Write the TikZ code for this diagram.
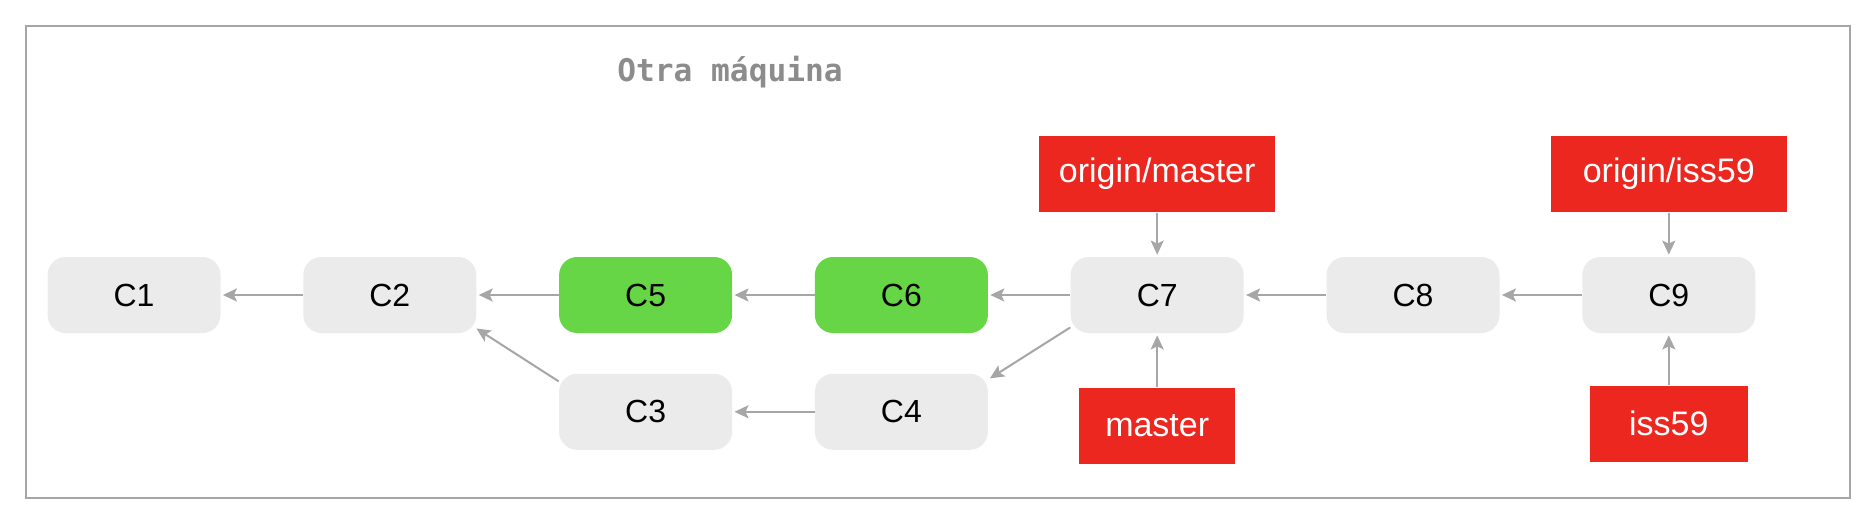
\documentclass[tikz,border=0pt]{standalone}
\usepackage{fontspec}
\setmainfont{Liberation Sans}
\setmonofont{DejaVu Sans Mono}
\usetikzlibrary{arrows.meta,positioning}

\definecolor{commitgray}{HTML}{EBEBEB}
\definecolor{commitgreen}{HTML}{66D646}
\definecolor{branchred}{HTML}{EB2720}
\definecolor{linegray}{HTML}{A6A6A6}
\definecolor{titlegray}{HTML}{8C8C8C}

\tikzset{
  commit/.style={rectangle,rounded corners=9pt,fill=commitgray,minimum width=86.5pt,minimum height=38pt,font=\fontsize{16}{19}\selectfont},
  merged/.style={commit,fill=commitgreen},
  branch/.style={rectangle,fill=branchred,text=white,minimum height=38pt,inner xsep=8.5pt,font=\fontsize{17}{20}\selectfont},
}

\begin{document}
\begin{tikzpicture}[x=0.5pt,y=-0.5pt,>={Stealth[length=7pt,width=6.5pt,inset=1.5pt]},shorten >=1pt,auto,node distance=41pt]

            \useasboundingbox (0,0) rectangle (1874,530);

            \draw[linegray,line width=1pt] (26,26) rectangle (1850,498);

            \node[font=\ttfamily\bfseries\fontsize{15.6}{18}\selectfont,text=titlegray] (title) at (730,72) {Otra máquina};

            \node[commit] (c1) at (134,295) {C1};

            \node[commit] (c2) [right=of c1] {C2};

            \node[merged] (c5) [right=of c2] {C5};

            \node[merged] (c6) [right=of c5] {C6};

            \node[commit] (c7) [right=of c6] {C7};

            \node[commit] (c8) [right=of c7] {C8};

            \node[commit] (c9) [right=of c8] {C9};

            \node[commit] (c3) [below=20pt of c5] {C3};

            \node[commit] (c4) [below=20pt of c6] {C4};

            \node[branch,minimum width=118pt] (om) [above=22pt of c7] {origin/master};

            \node[branch,minimum width=78pt] (master) [below=27pt of c7] {master};

            \node[branch,minimum width=118pt] (oi) [above=22pt of c9] {origin/iss59};

            \node[branch,minimum width=79pt] (iss) [below=26pt of c9] {iss59};

            

            \path[->,linegray,line width=1pt]
                      (c2) edge (c1)

                      (c5) edge (c2)

                      (c6) edge (c5)

                      (c7) edge (c6)

                      (c8) edge (c7)

                      (c9) edge (c8)

                      (c4) edge (c3)

                      ([yshift=-4pt]c3.north west) edge ([xshift=-1pt,yshift=3pt]c2.south east)

                      ([yshift=3pt]c7.south west) edge ([yshift=-3pt]c4.north east)

                      (om) edge (c7)

                      (master) edge (c7)

                      (oi) edge (c9)

                      (iss) edge (c9);

        \end{tikzpicture}
\end{document}
